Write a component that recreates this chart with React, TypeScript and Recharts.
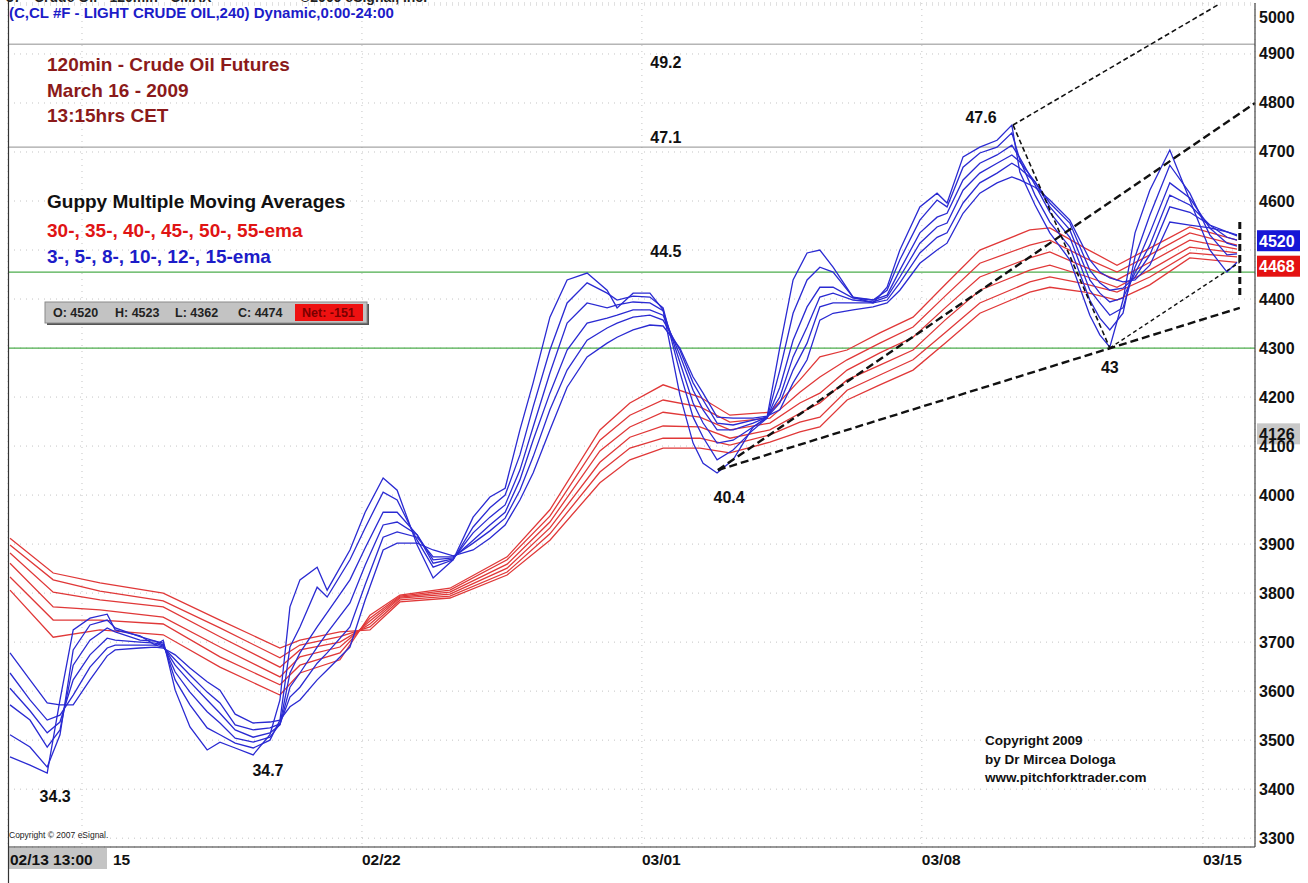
import React from 'react';
import {
  LineChart,
  Line,
  XAxis,
  YAxis,
  CartesianGrid,
  ReferenceLine,
  ReferenceDot,
} from 'recharts';

// time axis: trading days since 02/13 13:00
const blueT = [
  0.05, 0.55, 0.98, 1.3, 1.63, 2.05, 2.48, 2.68, 3.3, 3.68,
  3.88, 4.18, 4.55, 4.98, 5.3, 5.68, 6.13, 6.55, 6.8, 7.05,
  7.3, 7.73, 7.98, 8.55, 8.93, 9.38, 9.73, 10.23, 10.63, 11.13,
  11.63, 12.05, 12.43, 12.8, 13.13, 13.55, 13.98, 14.48, 14.98, 15.23,
  15.63, 16.05, 16.38, 16.8, 17.13, 17.38, 17.73, 18.13, 18.63, 18.98,
  19.3, 19.63, 19.98, 20.3, 20.63, 21.13, 21.63, 21.98, 22.3, 22.8,
  23.23, 23.48, 23.88, 24.3, 24.73, 25.1, 25.3, 25.68, 26.05, 26.55,
  27.05, 27.3, 27.55, 27.88, 28.18, 28.55, 29.05, 29.55, 30.05, 30.48,
  30.73,
];

// short-term group (blue)
const ema3 = [
  3466, 3449, 3433, 3582, 3725, 3749, 3757, 3725, 3713, 3694,
  3704, 3602, 3527, 3480, 3496, 3484, 3470, 3511, 3582, 3772,
  3827, 3853, 3806, 3888, 3965, 4035, 4010, 3898, 3831, 3868,
  3955, 3996, 4014, 4133, 4229, 4363, 4439, 4453, 4418, 4382,
  4412, 4412, 4378, 4204, 4106, 4065, 4045, 4072, 4139, 4159,
  4302, 4439, 4494, 4500, 4465, 4404, 4392, 4424, 4500, 4588,
  4616, 4596, 4690, 4710, 4724, 4755, 4659, 4592, 4535, 4480,
  4367, 4327, 4302, 4398, 4535, 4622, 4704, 4602, 4500, 4455,
  4475,
];
const ema5 = [
  3511, 3486, 3445, 3511, 3684, 3735, 3745, 3729, 3711, 3702,
  3698, 3623, 3572, 3525, 3511, 3494, 3484, 3500, 3541, 3690,
  3731, 3812, 3792, 3868, 3933, 4006, 3990, 3908, 3853, 3868,
  3935, 3974, 4000, 4082, 4180, 4296, 4392, 4433, 4412, 4398,
  4406, 4404, 4382, 4251, 4159, 4118, 4072, 4092, 4133, 4157,
  4255, 4371, 4439, 4465, 4455, 4404, 4398, 4418, 4480, 4561,
  4602, 4588, 4669, 4698, 4710, 4739, 4684, 4612, 4557, 4506,
  4398, 4361, 4337, 4371, 4486, 4571, 4673, 4616, 4531, 4490,
  4492,
];
const ema8 = [
  3572, 3541, 3486, 3521, 3653, 3704, 3729, 3721, 3704, 3702,
  3694, 3639, 3598, 3558, 3535, 3504, 3496, 3506, 3533, 3637,
  3678, 3731, 3760, 3827, 3892, 3965, 3965, 3919, 3861, 3870,
  3923, 3955, 3980, 4051, 4139, 4249, 4351, 4392, 4382, 4388,
  4394, 4392, 4376, 4271, 4188, 4147, 4106, 4112, 4139, 4157,
  4220, 4316, 4384, 4424, 4424, 4402, 4398, 4408, 4459, 4535,
  4567, 4575, 4643, 4677, 4694, 4714, 4688, 4633, 4577, 4526,
  4418, 4392, 4367, 4382, 4465, 4535, 4637, 4606, 4545, 4514,
  4508,
];
const ema10 = [
  3606, 3560, 3515, 3537, 3623, 3674, 3708, 3704, 3700, 3698,
  3692, 3653, 3619, 3582, 3555, 3521, 3506, 3515, 3531, 3608,
  3637, 3690, 3719, 3780, 3857, 3939, 3945, 3919, 3868, 3872,
  3908, 3939, 3965, 4031, 4112, 4208, 4296, 4351, 4361, 4367,
  4378, 4378, 4367, 4286, 4214, 4174, 4133, 4133, 4147, 4159,
  4200, 4282, 4343, 4404, 4412, 4398, 4394, 4404, 4445, 4514,
  4547, 4555, 4622, 4657, 4677, 4694, 4680, 4639, 4588, 4541,
  4439, 4412, 4394, 4402, 4453, 4510, 4612, 4592, 4551, 4526,
  4520,
];
const ema12 = [
  3637, 3582, 3541, 3551, 3592, 3649, 3688, 3694, 3694, 3694,
  3690, 3664, 3633, 3598, 3576, 3531, 3521, 3525, 3533, 3588,
  3608, 3657, 3678, 3731, 3817, 3914, 3925, 3914, 3874, 3874,
  3902, 3927, 3953, 4010, 4078, 4174, 4255, 4316, 4341, 4351,
  4363, 4367, 4357, 4296, 4229, 4194, 4147, 4143, 4153, 4159,
  4188, 4255, 4310, 4384, 4392, 4392, 4392, 4398, 4433, 4494,
  4526, 4535, 4596, 4637, 4657, 4677, 4667, 4639, 4596, 4555,
  4459, 4433, 4418, 4422, 4445, 4490, 4588, 4577, 4551, 4537,
  4529,
];
const ema15 = [
  3678, 3623, 3576, 3572, 3572, 3623, 3672, 3684, 3688, 3690,
  3688, 3674, 3647, 3619, 3602, 3553, 3535, 3537, 3541, 3568,
  3582, 3623, 3643, 3690, 3786, 3888, 3902, 3902, 3888, 3876,
  3888, 3912, 3939, 3990, 4045, 4133, 4220, 4282, 4310, 4322,
  4337, 4347, 4345, 4300, 4241, 4208, 4159, 4157, 4157, 4161,
  4174, 4229, 4276, 4357, 4371, 4378, 4384, 4392, 4418, 4473,
  4500, 4514, 4575, 4616, 4637, 4649, 4643, 4628, 4602, 4561,
  4480, 4455, 4443, 4435, 4439, 4469, 4557, 4551, 4545, 4537,
  4531,
];

// long-term group (red)
const redT = [
  0.05, 1.13, 2.3, 3.88, 5.3, 6.8, 7.3, 8.3, 9.05, 9.8,
  11.05, 12.48, 13.55, 14.8, 15.55, 16.38, 17.3, 18.05, 19.05, 19.8,
  20.3, 20.98, 21.8, 22.63, 23.43, 24.3, 25.55, 26.05, 26.93, 27.73,
  28.55, 29.55, 30.73,
];
const ema30 = [
  3806, 3710, 3725, 3715, 3649, 3592, 3637, 3664, 3755, 3796,
  3810, 3874, 3970, 4133, 4188, 4225, 4200, 4163, 4169, 4235,
  4282, 4296, 4331, 4363, 4429, 4500, 4541, 4545, 4504, 4469,
  4504, 4547, 4520,
];
const ema35 = [
  3833, 3745, 3745, 3737, 3670, 3613, 3653, 3678, 3749, 3794,
  3806, 3868, 3957, 4112, 4163, 4194, 4180, 4149, 4157, 4210,
  4241, 4276, 4310, 4343, 4406, 4473, 4510, 4520, 4484, 4455,
  4490, 4535, 4510,
];
const ema40 = [
  3861, 3772, 3766, 3751, 3690, 3629, 3670, 3690, 3743, 3792,
  3802, 3859, 3945, 4090, 4139, 4169, 4159, 4133, 4147, 4188,
  4208, 4255, 4290, 4322, 4382, 4445, 4484, 4496, 4465, 4439,
  4475, 4520, 4502,
];
const ema45 = [
  3882, 3802, 3786, 3772, 3711, 3649, 3684, 3700, 3737, 3790,
  3798, 3851, 3933, 4067, 4118, 4141, 4139, 4116, 4133, 4167,
  4188, 4235, 4265, 4296, 4357, 4418, 4459, 4469, 4447, 4424,
  4459, 4506, 4494,
];
const ema50 = [
  3898, 3827, 3804, 3784, 3729, 3668, 3694, 3711, 3731, 3786,
  3794, 3843, 3921, 4047, 4096, 4116, 4116, 4102, 4123, 4149,
  4159, 4214, 4245, 4276, 4331, 4392, 4435, 4445, 4431, 4414,
  4445, 4494, 4486,
];
const ema55 = [
  3912, 3841, 3821, 3800, 3745, 3688, 3704, 3721, 3725, 3782,
  3790, 3837, 3908, 4025, 4072, 4096, 4096, 4086, 4108, 4129,
  4139, 4194, 4225, 4255, 4310, 4371, 4414, 4424, 4414, 4398,
  4429, 4484, 4475,
];

const dateTicks = [0, 1.85, 8.85, 15.85, 22.85, 29.88];
const dateLabels = ['02/13 13:00', '15', '02/22', '03/01', '03/08', '03/15'];
const priceTicks = [
  3300, 3400, 3500, 3600, 3700, 3800, 3900, 4000, 4100,
  4200, 4300, 4400, 4500, 4600, 4700, 4800, 4900, 5000,
];
// 4500 sits under the last-price tags, so its label is not drawn
const hiddenPriceLabels = [4500];

const grayLevels = [4920, 4710];
const greenLevels = [4455, 4300];

const noteText = ['34.3', '34.7', '40.4', '43', '47.6', '49.2', '47.1', '44.5'];
const noteT = [1.18, 6.5, 18.03, 27.55, 24.33, 16.45, 16.45, 16.45];
const notePrice = [3386, 3439, 3996, 4261, 4771, 4883, 4730, 4498];

// pitchfork / trend lines [t, price]
const trendFrom = [[25.13, 4755], [17.75, 4051], [17.75, 4051], [25.13, 4755], [27.55, 4300], [30.8, 4557]];
const trendTo = [[30.25, 5000], [31.18, 4800], [30.8, 4382], [27.55, 4300], [30.8, 4475], [30.8, 4408]];
const trendWidth = [1.6, 2.4, 2.4, 1.6, 1.4, 3];
const trendDash = ['5 3', '8 4', '8 4', '5 3', '4 3', '7 4'];

const lastBlue = 4520;
const lastRed = 4468;
const cursorPrice = 4126;

const FONT = 'Arial, "Liberation Sans", Helvetica, sans-serif';
const BLUE = '#2a2ad2';
const RED = '#e03838';

const blueData = blueT.map((t, i) => ({
  t, ema3: ema3[i], ema5: ema5[i], ema8: ema8[i], ema10: ema10[i], ema12: ema12[i], ema15: ema15[i],
}));
const redData = redT.map((t, i) => ({
  t, ema30: ema30[i], ema35: ema35[i], ema40: ema40[i], ema45: ema45[i], ema50: ema50[i], ema55: ema55[i],
}));
const blueKeys = ['ema3', 'ema5', 'ema8', 'ema10', 'ema12', 'ema15'];
const redKeys = ['ema30', 'ema35', 'ema40', 'ema45', 'ema50', 'ema55'];

const DateTick = ({ x, y, payload }: any) => {
  const idx = dateTicks.indexOf(payload.value);
  const label = dateLabels[idx];
  if (idx === 0) {
    return (
      <g>
        <rect x={x} y={y + 1} width={99} height={21} fill="#c4c4c4" />
        <text x={x + 2} y={y + 12} dominantBaseline="central" fontFamily={FONT} fontWeight="bold" fontSize={15.5} fill="#111">
          {label}
        </text>
      </g>
    );
  }
  const shift = idx === 1 ? 31 : 0;
  return (
    <text x={x + shift} y={y + 12} dominantBaseline="central" fontFamily={FONT} fontWeight="bold" fontSize={15.5} fill="#111">
      {label}
    </text>
  );
};

const PriceTick = ({ x, y, payload }: any) => {
  if (hiddenPriceLabels.includes(payload.value)) return <g />;
  return (
    <text x={x + 4} y={Math.max(y, 17)} dominantBaseline="central" fontFamily={FONT} fontWeight="bold" fontSize={16} fill="#111">
      {payload.value}
    </text>
  );
};

const PriceTag = ({ viewBox, text, bg, fg }: any) => {
  const x = viewBox.x + viewBox.width + 2;
  return (
    <g>
      <rect x={x} y={viewBox.y - 10} width={43} height={21} fill={bg} />
      <text x={x + 2} y={viewBox.y + 1} dominantBaseline="central" fontFamily={FONT} fontWeight="bold" fontSize={16} fill={fg}>
        {text}
      </text>
    </g>
  );
};

const Note = ({ viewBox, text }: any) => (
  <text
    x={viewBox.x + viewBox.width / 2}
    y={viewBox.y + viewBox.height / 2}
    textAnchor="middle"
    dominantBaseline="central"
    fontFamily={FONT}
    fontWeight="bold"
    fontSize={16}
    fill="#111"
  >
    {text}
  </text>
);

const Overlay = () => (
  <svg width={1308} height={883} style={{ position: 'absolute', left: 0, top: 0, pointerEvents: 'none' }}>
    <line x1={8.5} y1={0} x2={8.5} y2={883} stroke="#333" strokeWidth={1.2} />
    <text x={6} y={-3} dominantBaseline="central" fontFamily={FONT} fontWeight="bold" fontSize={14} fill="#222">
      37 - Crude Oil - 120min - CMAX
    </text>
    <text x={300} y={-3} dominantBaseline="central" fontFamily={FONT} fontWeight="bold" fontSize={14} fill="#222">
      ©2009 eSignal, Inc.
    </text>
    <text x={9} y={12} dominantBaseline="central" fontFamily={FONT} fontWeight="bold" fontSize={15} fill="#1c1cc8">
      (C,CL #F - LIGHT CRUDE OIL,240) Dynamic,0:00-24:00
    </text>

    <g fontFamily={FONT} fontWeight="bold" fontSize={19} fill="#8b1a1a">
      <text x={47} y={64} dominantBaseline="central">120min - Crude Oil Futures</text>
      <text x={47} y={90} dominantBaseline="central">March 16 - 2009</text>
      <text x={47} y={115} dominantBaseline="central">13:15hrs CET</text>
    </g>

    <g fontFamily={FONT} fontWeight="bold" fontSize={19}>
      <text x={47} y={201} dominantBaseline="central" fill="#111">Guppy Multiple Moving Averages</text>
      <text x={47} y={230} dominantBaseline="central" fill="#e01414">30-, 35-, 40-, 45-, 50-, 55-ema</text>
      <text x={47} y={256} dominantBaseline="central" fill="#1c1cc8">3-, 5-, 8-, 10-, 12-, 15-ema</text>
    </g>

    <rect x={47} y={304} width={322} height={21} fill="#555" />
    <rect x={45} y={302} width={322} height={21} fill="#c3c3c3" stroke="#8a8a8a" />
    <rect x={295} y={304} width={68} height={17} fill="#ee1111" />
    <g fontFamily={FONT} fontWeight="bold" fontSize={12.5} fill="#222">
      <text x={53} y={313} dominantBaseline="central">O: 4520</text>
      <text x={115} y={313} dominantBaseline="central">H: 4523</text>
      <text x={175} y={313} dominantBaseline="central">L: 4362</text>
      <text x={238} y={313} dominantBaseline="central">C: 4474</text>
      <text x={302} y={313} dominantBaseline="central" fill="#7a0000">Net: -151</text>
    </g>

    <g fontFamily={FONT} fontWeight="bold" fontSize={13.5} fill="#111">
      <text x={985} y={740} dominantBaseline="central">Copyright 2009</text>
      <text x={985} y={759} dominantBaseline="central">by Dr Mircea Dologa</text>
      <text x={985} y={777} dominantBaseline="central">www.pitchforktrader.com</text>
    </g>
    <text x={9} y={835} dominantBaseline="central" fontFamily={FONT} fontSize={8.5} fill="#222">
      Copyright © 2007 eSignal.
    </text>
  </svg>
);

export default function App() {
  return (
    <div style={{ position: 'absolute', left: 0, top: 0, width: 1308, height: 883, background: '#fff' }}>
      <LineChart width={1308} height={883} margin={{ top: 3, right: 0, bottom: 0, left: 8 }}>
        <CartesianGrid stroke="#c4c4c4" strokeDasharray="1 5" />
        <XAxis
          type="number"
          dataKey="t"
          domain={[0, 31.18]}
          ticks={dateTicks}
          allowDataOverflow
          height={36}
          tickSize={0}
          tickMargin={0}
          tickLine={false}
          axisLine={{ stroke: '#333', strokeWidth: 1.2 }}
          tick={<DateTick />}
          interval={0}
        />
        <YAxis
          orientation="right"
          type="number"
          domain={[3282, 5004]}
          ticks={priceTicks}
          allowDataOverflow
          width={53}
          tickSize={0}
          tickMargin={0}
          tickLine={false}
          axisLine={{ stroke: '#444', strokeWidth: 1.2 }}
          tick={<PriceTick />}
          interval={0}
        />
        {grayLevels.map((p) => (
          <ReferenceLine key={'g' + p} y={p} stroke="#8f8f8f" strokeWidth={1} />
        ))}
        {greenLevels.map((p) => (
          <ReferenceLine key={'n' + p} y={p} stroke="#4cad4c" strokeWidth={1.3} />
        ))}
        {redKeys.map((k) => (
          <Line
            key={k}
            data={redData}
            dataKey={k}
            type="linear"
            stroke={RED}
            strokeWidth={1.3}
            dot={false}
            isAnimationActive={false}
          />
        ))}
        {blueKeys.map((k) => (
          <Line
            key={k}
            data={blueData}
            dataKey={k}
            type="linear"
            stroke={BLUE}
            strokeWidth={1.3}
            dot={false}
            isAnimationActive={false}
          />
        ))}
        {trendFrom.map((a, i) => (
          <ReferenceLine
            key={'tr' + i}
            segment={[{ x: a[0], y: a[1] }, { x: trendTo[i][0], y: trendTo[i][1] }]}
            stroke="#111"
            strokeWidth={trendWidth[i]}
            strokeDasharray={trendDash[i]}
            ifOverflow="visible"
          />
        ))}
        {noteText.map((s, i) => (
          <ReferenceDot
            key={'nt' + i}
            x={noteT[i]}
            y={notePrice[i]}
            r={0}
            fill="none"
            stroke="none"
            ifOverflow="visible"
            label={<Note text={s} />}
          />
        ))}
        <ReferenceLine y={lastBlue} stroke="none" label={<PriceTag text={String(lastBlue)} bg="#1616d6" fg="#fff" />} />
        <ReferenceLine y={lastRed} stroke="none" label={<PriceTag text={String(lastRed)} bg="#e41212" fg="#fff" />} />
        <ReferenceLine y={cursorPrice} stroke="none" label={<PriceTag text={String(cursorPrice)} bg="#c8c8c8" fg="#111" />} />
      </LineChart>
      <Overlay />
    </div>
  );
}
